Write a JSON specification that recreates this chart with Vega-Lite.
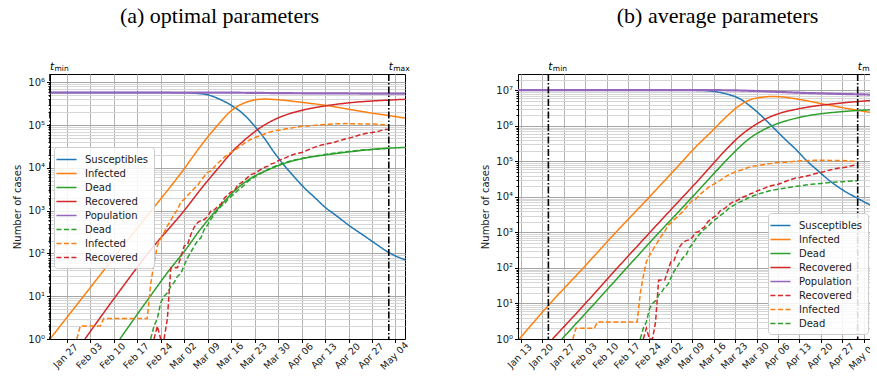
{
  "$schema": "https://vega.github.io/schema/vega-lite/v6.json",
  "padding": {"left": 12, "top": 4, "right": -10, "bottom": 0},
  "spacing": 69,
  "config": {
    "font": "DejaVu Sans",
    "view": {"stroke": "black", "strokeWidth": 1},
    "axis": {"labelFont": "DejaVu Sans", "labelColor": "#1a1a1a", "titleFont": "DejaVu Sans", "titleFontWeight": "normal", "titleColor": "#1a1a1a", "domainColor": "black", "tickColor": "black"},
    "legend": {"title": null, "symbolType": "M-1.5,0H1.5", "symbolSize": 180, "symbolStrokeWidth": 1.5, "labelFont": "DejaVu Sans", "labelFontSize": 10, "labelColor": "#1a1a1a", "labelOffset": 11, "rowPadding": 1, "padding": 5, "fillColor": "rgba(255,255,255,0.85)", "strokeColor": "#cccccc", "cornerRadius": 3}
  },
  "datasets": {
    "tlines": [{"d": "2020-01-22", "t": "min"}, {"d": "2020-05-02", "t": "max"}],
    "modelA": [
      {"s": "Susceptibles", "d": "2020-01-22", "v": 575000}, {"s": "Susceptibles", "d": "2020-02-20", "v": 575000}, {"s": "Susceptibles", "d": "2020-03-01", "v": 570000}, {"s": "Susceptibles", "d": "2020-03-05", "v": 555000}, {"s": "Susceptibles", "d": "2020-03-09", "v": 510000}, {"s": "Susceptibles", "d": "2020-03-12", "v": 420000}, {"s": "Susceptibles", "d": "2020-03-16", "v": 290000}, {"s": "Susceptibles", "d": "2020-03-19", "v": 200000}, {"s": "Susceptibles", "d": "2020-03-23", "v": 95000}, {"s": "Susceptibles", "d": "2020-03-26", "v": 48000}, {"s": "Susceptibles", "d": "2020-03-29", "v": 22000}, {"s": "Susceptibles", "d": "2020-04-01", "v": 11000}, {"s": "Susceptibles", "d": "2020-04-04", "v": 5900}, {"s": "Susceptibles", "d": "2020-04-07", "v": 3300}, {"s": "Susceptibles", "d": "2020-04-10", "v": 2000}, {"s": "Susceptibles", "d": "2020-04-13", "v": 1200}, {"s": "Susceptibles", "d": "2020-04-16", "v": 800}, {"s": "Susceptibles", "d": "2020-04-20", "v": 460}, {"s": "Susceptibles", "d": "2020-04-24", "v": 280}, {"s": "Susceptibles", "d": "2020-04-28", "v": 170}, {"s": "Susceptibles", "d": "2020-05-02", "v": 105}, {"s": "Susceptibles", "d": "2020-05-07", "v": 70},
      {"s": "Infected", "d": "2020-01-22", "v": 1}, {"s": "Infected", "d": "2020-02-01", "v": 10}, {"s": "Infected", "d": "2020-02-11", "v": 100}, {"s": "Infected", "d": "2020-02-21", "v": 950}, {"s": "Infected", "d": "2020-03-02", "v": 9500}, {"s": "Infected", "d": "2020-03-07", "v": 33000}, {"s": "Infected", "d": "2020-03-12", "v": 100000}, {"s": "Infected", "d": "2020-03-16", "v": 215000}, {"s": "Infected", "d": "2020-03-19", "v": 305000}, {"s": "Infected", "d": "2020-03-23", "v": 385000}, {"s": "Infected", "d": "2020-03-26", "v": 405000}, {"s": "Infected", "d": "2020-03-30", "v": 390000}, {"s": "Infected", "d": "2020-04-06", "v": 340000}, {"s": "Infected", "d": "2020-04-13", "v": 290000}, {"s": "Infected", "d": "2020-04-20", "v": 235000}, {"s": "Infected", "d": "2020-04-27", "v": 190000}, {"s": "Infected", "d": "2020-05-04", "v": 158000}, {"s": "Infected", "d": "2020-05-07", "v": 145000},
      {"s": "Dead", "d": "2020-02-11T20:00:00Z", "v": 1}, {"s": "Dead", "d": "2020-02-20", "v": 8}, {"s": "Dead", "d": "2020-02-27", "v": 45}, {"s": "Dead", "d": "2020-03-02", "v": 110}, {"s": "Dead", "d": "2020-03-07", "v": 380}, {"s": "Dead", "d": "2020-03-12", "v": 1100}, {"s": "Dead", "d": "2020-03-17", "v": 2900}, {"s": "Dead", "d": "2020-03-22", "v": 5800}, {"s": "Dead", "d": "2020-03-27", "v": 9000}, {"s": "Dead", "d": "2020-04-02", "v": 13500}, {"s": "Dead", "d": "2020-04-08", "v": 17500}, {"s": "Dead", "d": "2020-04-13", "v": 20000}, {"s": "Dead", "d": "2020-04-20", "v": 23500}, {"s": "Dead", "d": "2020-04-27", "v": 27000}, {"s": "Dead", "d": "2020-05-02", "v": 28800}, {"s": "Dead", "d": "2020-05-07", "v": 30000},
      {"s": "Recovered", "d": "2020-02-01T10:00:00Z", "v": 1}, {"s": "Recovered", "d": "2020-02-11", "v": 11}, {"s": "Recovered", "d": "2020-02-21", "v": 120}, {"s": "Recovered", "d": "2020-03-02", "v": 1000}, {"s": "Recovered", "d": "2020-03-07", "v": 3200}, {"s": "Recovered", "d": "2020-03-12", "v": 9500}, {"s": "Recovered", "d": "2020-03-17", "v": 27000}, {"s": "Recovered", "d": "2020-03-21", "v": 52000}, {"s": "Recovered", "d": "2020-03-25", "v": 90000}, {"s": "Recovered", "d": "2020-03-29", "v": 135000}, {"s": "Recovered", "d": "2020-04-02", "v": 180000}, {"s": "Recovered", "d": "2020-04-06", "v": 220000}, {"s": "Recovered", "d": "2020-04-13", "v": 280000}, {"s": "Recovered", "d": "2020-04-20", "v": 330000}, {"s": "Recovered", "d": "2020-04-27", "v": 365000}, {"s": "Recovered", "d": "2020-05-04", "v": 390000}, {"s": "Recovered", "d": "2020-05-07", "v": 400000},
      {"s": "Population", "d": "2020-01-22", "v": 575000}, {"s": "Population", "d": "2020-03-09", "v": 575000}, {"s": "Population", "d": "2020-03-16", "v": 572000}, {"s": "Population", "d": "2020-03-23", "v": 565000}, {"s": "Population", "d": "2020-03-30", "v": 558000}, {"s": "Population", "d": "2020-04-06", "v": 553000}, {"s": "Population", "d": "2020-04-13", "v": 550000}, {"s": "Population", "d": "2020-04-20", "v": 547000}, {"s": "Population", "d": "2020-04-27", "v": 544000}, {"s": "Population", "d": "2020-05-07", "v": 540000}
    ],
    "modelB": [
      {"s": "Susceptibles", "d": "2020-01-12", "v": 10200000}, {"s": "Susceptibles", "d": "2020-03-05", "v": 10150000}, {"s": "Susceptibles", "d": "2020-03-12", "v": 9950000}, {"s": "Susceptibles", "d": "2020-03-17", "v": 9100000}, {"s": "Susceptibles", "d": "2020-03-21", "v": 7600000}, {"s": "Susceptibles", "d": "2020-03-25", "v": 5500000}, {"s": "Susceptibles", "d": "2020-03-28", "v": 3550000}, {"s": "Susceptibles", "d": "2020-03-31", "v": 2140000}, {"s": "Susceptibles", "d": "2020-04-03", "v": 1200000}, {"s": "Susceptibles", "d": "2020-04-06", "v": 660000}, {"s": "Susceptibles", "d": "2020-04-09", "v": 370000}, {"s": "Susceptibles", "d": "2020-04-12", "v": 210000}, {"s": "Susceptibles", "d": "2020-04-15", "v": 112000}, {"s": "Susceptibles", "d": "2020-04-19", "v": 55000}, {"s": "Susceptibles", "d": "2020-04-23", "v": 28000}, {"s": "Susceptibles", "d": "2020-04-27", "v": 16000}, {"s": "Susceptibles", "d": "2020-05-02", "v": 9100}, {"s": "Susceptibles", "d": "2020-05-07", "v": 5400},
      {"s": "Infected", "d": "2020-01-12T12:00:00Z", "v": 1}, {"s": "Infected", "d": "2020-01-23", "v": 11}, {"s": "Infected", "d": "2020-02-02", "v": 92}, {"s": "Infected", "d": "2020-02-13", "v": 1000}, {"s": "Infected", "d": "2020-02-24", "v": 10000}, {"s": "Infected", "d": "2020-03-05", "v": 85000}, {"s": "Infected", "d": "2020-03-10", "v": 250000}, {"s": "Infected", "d": "2020-03-15", "v": 660000}, {"s": "Infected", "d": "2020-03-20", "v": 1780000}, {"s": "Infected", "d": "2020-03-24", "v": 3550000}, {"s": "Infected", "d": "2020-03-28", "v": 5500000}, {"s": "Infected", "d": "2020-04-01", "v": 6450000}, {"s": "Infected", "d": "2020-04-04", "v": 6760000}, {"s": "Infected", "d": "2020-04-08", "v": 6450000}, {"s": "Infected", "d": "2020-04-14", "v": 5370000}, {"s": "Infected", "d": "2020-04-20", "v": 4270000}, {"s": "Infected", "d": "2020-04-26", "v": 3390000}, {"s": "Infected", "d": "2020-05-02", "v": 2750000}, {"s": "Infected", "d": "2020-05-07", "v": 2340000},
      {"s": "Dead", "d": "2020-01-26T10:00:00Z", "v": 1}, {"s": "Dead", "d": "2020-02-05", "v": 7.9}, {"s": "Dead", "d": "2020-02-15", "v": 71}, {"s": "Dead", "d": "2020-02-25", "v": 630}, {"s": "Dead", "d": "2020-03-06", "v": 5250}, {"s": "Dead", "d": "2020-03-12", "v": 19000}, {"s": "Dead", "d": "2020-03-17", "v": 56000}, {"s": "Dead", "d": "2020-03-22", "v": 158000}, {"s": "Dead", "d": "2020-03-27", "v": 400000}, {"s": "Dead", "d": "2020-04-01", "v": 760000}, {"s": "Dead", "d": "2020-04-06", "v": 1175000}, {"s": "Dead", "d": "2020-04-12", "v": 1660000}, {"s": "Dead", "d": "2020-04-18", "v": 2090000}, {"s": "Dead", "d": "2020-04-24", "v": 2400000}, {"s": "Dead", "d": "2020-05-01", "v": 2690000}, {"s": "Dead", "d": "2020-05-07", "v": 2880000},
      {"s": "Recovered", "d": "2020-01-23T08:00:00Z", "v": 1}, {"s": "Recovered", "d": "2020-02-02", "v": 7.9}, {"s": "Recovered", "d": "2020-02-12", "v": 72}, {"s": "Recovered", "d": "2020-02-22", "v": 630}, {"s": "Recovered", "d": "2020-03-03", "v": 5400}, {"s": "Recovered", "d": "2020-03-10", "v": 24000}, {"s": "Recovered", "d": "2020-03-15", "v": 72000}, {"s": "Recovered", "d": "2020-03-20", "v": 215000}, {"s": "Recovered", "d": "2020-03-25", "v": 560000}, {"s": "Recovered", "d": "2020-03-29", "v": 1000000}, {"s": "Recovered", "d": "2020-04-02", "v": 1580000}, {"s": "Recovered", "d": "2020-04-06", "v": 2190000}, {"s": "Recovered", "d": "2020-04-12", "v": 2950000}, {"s": "Recovered", "d": "2020-04-18", "v": 3630000}, {"s": "Recovered", "d": "2020-04-24", "v": 4170000}, {"s": "Recovered", "d": "2020-05-01", "v": 4790000}, {"s": "Recovered", "d": "2020-05-07", "v": 5250000},
      {"s": "Population", "d": "2020-01-12", "v": 10200000}, {"s": "Population", "d": "2020-03-12", "v": 10200000}, {"s": "Population", "d": "2020-03-23", "v": 10000000}, {"s": "Population", "d": "2020-03-30", "v": 9600000}, {"s": "Population", "d": "2020-04-06", "v": 9100000}, {"s": "Population", "d": "2020-04-13", "v": 8600000}, {"s": "Population", "d": "2020-04-20", "v": 8250000}, {"s": "Population", "d": "2020-04-27", "v": 7950000}, {"s": "Population", "d": "2020-05-07", "v": 7600000}
    ],
    "obs": [
      {"d": "2020-01-30", "Infected_data": 0},
      {"d": "2020-01-31", "Infected_data": 2},
      {"d": "2020-02-06", "Infected_data": 2},
      {"d": "2020-02-07", "Infected_data": 3},
      {"d": "2020-02-20", "Infected_data": 3},
      {"d": "2020-02-21", "Infected_data": 19, "Dead_data": 1},
      {"d": "2020-02-22", "Infected_data": 59, "Recovered_data": 1, "Dead_data": 2},
      {"d": "2020-02-23", "Infected_data": 150, "Recovered_data": 2, "Dead_data": 3},
      {"d": "2020-02-24", "Infected_data": 221, "Recovered_data": 1, "Dead_data": 7},
      {"d": "2020-02-25", "Infected_data": 311, "Recovered_data": 1, "Dead_data": 10},
      {"d": "2020-02-26", "Infected_data": 438, "Recovered_data": 3, "Dead_data": 12},
      {"d": "2020-02-27", "Infected_data": 593, "Recovered_data": 45, "Dead_data": 17},
      {"d": "2020-02-28", "Infected_data": 821, "Recovered_data": 46, "Dead_data": 21},
      {"d": "2020-02-29", "Infected_data": 1053, "Recovered_data": 46, "Dead_data": 29},
      {"d": "2020-03-01", "Infected_data": 1577, "Recovered_data": 83, "Dead_data": 34},
      {"d": "2020-03-02", "Infected_data": 1835, "Recovered_data": 149, "Dead_data": 52},
      {"d": "2020-03-03", "Infected_data": 2263, "Recovered_data": 160, "Dead_data": 79},
      {"d": "2020-03-04", "Infected_data": 2706, "Recovered_data": 276, "Dead_data": 107},
      {"d": "2020-03-05", "Infected_data": 3296, "Recovered_data": 414, "Dead_data": 148},
      {"d": "2020-03-06", "Infected_data": 3916, "Recovered_data": 523, "Dead_data": 197},
      {"d": "2020-03-07", "Infected_data": 5061, "Recovered_data": 589, "Dead_data": 233},
      {"d": "2020-03-08", "Infected_data": 6387, "Recovered_data": 622, "Dead_data": 366},
      {"d": "2020-03-09", "Infected_data": 7985, "Recovered_data": 724, "Dead_data": 463},
      {"d": "2020-03-10", "Infected_data": 8514, "Recovered_data": 1004, "Dead_data": 631},
      {"d": "2020-03-11", "Infected_data": 10590, "Recovered_data": 1045, "Dead_data": 827},
      {"d": "2020-03-12", "Infected_data": 12839, "Recovered_data": 1258, "Dead_data": 1016},
      {"d": "2020-03-13", "Infected_data": 14955, "Recovered_data": 1439, "Dead_data": 1266},
      {"d": "2020-03-14", "Infected_data": 17750, "Recovered_data": 1966, "Dead_data": 1441},
      {"d": "2020-03-15", "Infected_data": 20603, "Recovered_data": 2335, "Dead_data": 1809},
      {"d": "2020-03-16", "Infected_data": 23073, "Recovered_data": 2749, "Dead_data": 2158},
      {"d": "2020-03-17", "Infected_data": 26062, "Recovered_data": 2941, "Dead_data": 2503},
      {"d": "2020-03-18", "Infected_data": 28710, "Recovered_data": 4025, "Dead_data": 2978},
      {"d": "2020-03-19", "Infected_data": 33190, "Recovered_data": 4440, "Dead_data": 3405},
      {"d": "2020-03-20", "Infected_data": 37860, "Recovered_data": 5129, "Dead_data": 4032},
      {"d": "2020-03-21", "Infected_data": 42681, "Recovered_data": 6072, "Dead_data": 4825},
      {"d": "2020-03-22", "Infected_data": 46638, "Recovered_data": 7024, "Dead_data": 5476},
      {"d": "2020-03-23", "Infected_data": 50418, "Recovered_data": 7432, "Dead_data": 6077},
      {"d": "2020-03-24", "Infected_data": 54030, "Recovered_data": 8326, "Dead_data": 6820},
      {"d": "2020-03-25", "Infected_data": 57521, "Recovered_data": 9362, "Dead_data": 7503},
      {"d": "2020-03-26", "Infected_data": 62013, "Recovered_data": 10361, "Dead_data": 8165},
      {"d": "2020-03-27", "Infected_data": 66414, "Recovered_data": 10950, "Dead_data": 9134},
      {"d": "2020-03-28", "Infected_data": 70065, "Recovered_data": 12384, "Dead_data": 10023},
      {"d": "2020-03-29", "Infected_data": 73880, "Recovered_data": 13030, "Dead_data": 10779},
      {"d": "2020-03-30", "Infected_data": 75528, "Recovered_data": 14620, "Dead_data": 11591},
      {"d": "2020-03-31", "Infected_data": 77635, "Recovered_data": 15729, "Dead_data": 12428},
      {"d": "2020-04-01", "Infected_data": 80572, "Recovered_data": 16847, "Dead_data": 13155},
      {"d": "2020-04-02", "Infected_data": 83049, "Recovered_data": 18278, "Dead_data": 13915},
      {"d": "2020-04-03", "Infected_data": 85388, "Recovered_data": 19758, "Dead_data": 14681},
      {"d": "2020-04-04", "Infected_data": 88274, "Recovered_data": 20996, "Dead_data": 15362},
      {"d": "2020-04-05", "Infected_data": 91246, "Recovered_data": 21815, "Dead_data": 15887},
      {"d": "2020-04-06", "Infected_data": 93187, "Recovered_data": 22837, "Dead_data": 16523},
      {"d": "2020-04-07", "Infected_data": 94067, "Recovered_data": 24392, "Dead_data": 17127},
      {"d": "2020-04-08", "Infected_data": 95262, "Recovered_data": 26491, "Dead_data": 17669},
      {"d": "2020-04-09", "Infected_data": 96877, "Recovered_data": 28470, "Dead_data": 18279},
      {"d": "2020-04-10", "Infected_data": 98273, "Recovered_data": 30455, "Dead_data": 18849},
      {"d": "2020-04-11", "Infected_data": 100269, "Recovered_data": 32534, "Dead_data": 19468},
      {"d": "2020-04-12", "Infected_data": 102253, "Recovered_data": 34211, "Dead_data": 19899},
      {"d": "2020-04-13", "Infected_data": 103616, "Recovered_data": 35435, "Dead_data": 20465},
      {"d": "2020-04-14", "Infected_data": 104291, "Recovered_data": 37130, "Dead_data": 21067},
      {"d": "2020-04-15", "Infected_data": 105418, "Recovered_data": 38092, "Dead_data": 21645},
      {"d": "2020-04-16", "Infected_data": 106607, "Recovered_data": 40164, "Dead_data": 22170},
      {"d": "2020-04-17", "Infected_data": 106962, "Recovered_data": 42727, "Dead_data": 22745},
      {"d": "2020-04-18", "Infected_data": 107771, "Recovered_data": 44927, "Dead_data": 23227},
      {"d": "2020-04-19", "Infected_data": 108257, "Recovered_data": 47055, "Dead_data": 23660},
      {"d": "2020-04-20", "Infected_data": 108237, "Recovered_data": 48877, "Dead_data": 24114},
      {"d": "2020-04-21", "Infected_data": 107709, "Recovered_data": 51600, "Dead_data": 24648},
      {"d": "2020-04-22", "Infected_data": 107699, "Recovered_data": 54543, "Dead_data": 25085},
      {"d": "2020-04-23", "Infected_data": 106848, "Recovered_data": 57576, "Dead_data": 25549},
      {"d": "2020-04-24", "Infected_data": 106527, "Recovered_data": 60498, "Dead_data": 25969},
      {"d": "2020-04-25", "Infected_data": 105847, "Recovered_data": 63120, "Dead_data": 26384},
      {"d": "2020-04-26", "Infected_data": 106103, "Recovered_data": 64928, "Dead_data": 26644},
      {"d": "2020-04-27", "Infected_data": 105813, "Recovered_data": 66624, "Dead_data": 26977},
      {"d": "2020-04-28", "Infected_data": 105205, "Recovered_data": 68941, "Dead_data": 27359},
      {"d": "2020-04-29", "Infected_data": 104657, "Recovered_data": 71252, "Dead_data": 27682},
      {"d": "2020-04-30", "Infected_data": 101551, "Recovered_data": 75945, "Dead_data": 27967},
      {"d": "2020-05-01", "Infected_data": 100943, "Recovered_data": 78249, "Dead_data": 28236},
      {"d": "2020-05-02", "Infected_data": 100704, "Recovered_data": 79914, "Dead_data": 28710}
    ]
  },
  "resolve": {"scale": {"x": "independent", "y": "independent", "color": "independent", "strokeDash": "independent"}},
  "hconcat": [
    {
      "width": 355,
      "height": 265,
      "title": {"text": "(a) optimal parameters", "frame": "group", "anchor": "middle", "dx": -8, "offset": 34, "font": "Liberation Serif", "fontSize": 22, "fontWeight": "normal", "color": "black"},
      "encoding": {
        "x": {"field": "d", "type": "temporal",
          "scale": {"type": "utc", "domain": [{"year": 2020, "month": 1, "date": 22, "utc": true}, {"year": 2020, "month": 5, "date": 6, "hours": 20, "utc": true}]},
          "axis": {"title": null, "format": "%b %d", "labelAngle": -45, "labelAlign": "center", "labelBaseline": "middle", "labelPadding": 13, "labelOffset": -1.5, "labelFontSize": 9.5, "labelOverlap": false, "labelFlush": false, "tickSize": 3.5, "grid": true, "gridColor": "#b3b3b3",
            "values": [{"year": 2020, "month": 1, "date": 27, "utc": true}, {"year": 2020, "month": 2, "date": 3, "utc": true}, {"year": 2020, "month": 2, "date": 10, "utc": true}, {"year": 2020, "month": 2, "date": 17, "utc": true}, {"year": 2020, "month": 2, "date": 24, "utc": true}, {"year": 2020, "month": 3, "date": 2, "utc": true}, {"year": 2020, "month": 3, "date": 9, "utc": true}, {"year": 2020, "month": 3, "date": 16, "utc": true}, {"year": 2020, "month": 3, "date": 23, "utc": true}, {"year": 2020, "month": 3, "date": 30, "utc": true}, {"year": 2020, "month": 4, "date": 6, "utc": true}, {"year": 2020, "month": 4, "date": 13, "utc": true}, {"year": 2020, "month": 4, "date": 20, "utc": true}, {"year": 2020, "month": 4, "date": 27, "utc": true}, {"year": 2020, "month": 5, "date": 4, "utc": true}]}
        }
      },
      "layer": [
        {
          "data": {"name": "modelA"},
          "mark": {"type": "line", "clip": true, "interpolate": "monotone"},
          "encoding": {
            "y": {"field": "v", "type": "quantitative", "scale": {"type": "log", "domain": [1, 1560000], "nice": false, "clamp": true},
              "axis": {"title": "Number of cases", "titleFontSize": 10, "titlePadding": 5, "labelFontSize": 10, "labelOverlap": false, "labelPadding": 2, "grid": true,
                "values": [1,2,3,4,5,6,7,8,9,10,20,30,40,50,60,70,80,90,100,200,300,400,500,600,700,800,900,1000,2000,3000,4000,5000,6000,7000,8000,9000,10000,20000,30000,40000,50000,60000,70000,80000,90000,100000,200000,300000,400000,500000,600000,700000,800000,900000,1000000],
                "labelExpr": "abs(log(datum.value)/LN10 - round(log(datum.value)/LN10)) < 0.001 ? '10' + ['⁰','¹','²','³','⁴','⁵','⁶','⁷'][round(log(datum.value)/LN10)] : ''",
                "tickSize": {"condition": {"test": "abs(log(datum.value)/LN10 - round(log(datum.value)/LN10)) < 0.001", "value": 3.5}, "value": 2},
                "gridColor": {"condition": {"test": "abs(log(datum.value)/LN10 - round(log(datum.value)/LN10)) < 0.001", "value": "#a6a6a6"}, "value": "#d6d6d6"}}},
            "color": {"field": "s", "type": "nominal",
              "scale": {"domain": ["Susceptibles", "Infected", "Dead", "Recovered", "Population", "Dead_data", "Infected_data", "Recovered_data"], "range": ["#1f77b4", "#ff7f0e", "#2ca02c", "#d62728", "#9467bd", "#2ca02c", "#ff7f0e", "#d62728"]},
              "legend": {"orient": "none", "legendX": 4, "legendY": 73, "labelExpr": "replace(datum.label, '_data', '')"}},
            "strokeDash": {"field": "s", "type": "nominal",
              "scale": {"domain": ["Susceptibles", "Infected", "Dead", "Recovered", "Population", "Dead_data", "Infected_data", "Recovered_data"], "range": [[1, 0], [1, 0], [1, 0], [1, 0], [1, 0], [5, 2.5], [5, 2.5], [5, 2.5]]},
              "legend": {"orient": "none", "legendX": 4, "legendY": 73, "labelExpr": "replace(datum.label, '_data', '')"}},
            "strokeWidth": {"condition": {"test": "datum.s === 'Population'", "value": 2.2}, "value": 1.5}
          }
        },
        {
          "data": {"name": "obs"},
          "transform": [{"fold": ["Dead_data", "Infected_data", "Recovered_data"], "as": ["s", "v"]}],
          "mark": {"type": "line", "clip": true, "strokeWidth": 1.5},
          "encoding": {
            "y": {"field": "v", "type": "quantitative"},
            "color": {"field": "s", "type": "nominal"},
            "strokeDash": {"field": "s", "type": "nominal"}
          }
        },
        {
          "data": {"name": "tlines"},
          "mark": {"type": "rule", "color": "black", "strokeWidth": 1.6, "strokeDash": [7, 2, 1.5, 2]},
          "encoding": {}
        },
        {
          "data": {"name": "tlines"},
          "mark": {"type": "text", "text": "t", "font": "DejaVu Sans", "fontStyle": "italic", "fontSize": 10.5, "align": "left", "baseline": "alphabetic", "dy": -4, "color": "black"},
          "encoding": {"y": {"datum": 1560000, "type": "quantitative"}}
        },
        {
          "data": {"name": "tlines"},
          "mark": {"type": "text", "font": "DejaVu Sans", "fontSize": 7.5, "align": "left", "baseline": "alphabetic", "dx": 4.5, "dy": -3, "color": "black"},
          "encoding": {"y": {"datum": 1560000, "type": "quantitative"}, "text": {"field": "t"}}
        }
      ]
    },
    {
      "width": 355,
      "height": 265,
      "title": {"text": "(b) average parameters", "frame": "group", "anchor": "middle", "dx": 22, "offset": 34, "font": "Liberation Serif", "fontSize": 22, "fontWeight": "normal", "color": "black"},
      "encoding": {
        "x": {"field": "d", "type": "temporal",
          "scale": {"type": "utc", "domain": [{"year": 2020, "month": 1, "date": 12, "hours": 2, "utc": true}, {"year": 2020, "month": 5, "date": 7, "utc": true}]},
          "axis": {"title": null, "format": "%b %d", "labelAngle": -45, "labelAlign": "center", "labelBaseline": "middle", "labelPadding": 13, "labelOffset": -1.5, "labelFontSize": 9.5, "labelOverlap": false, "labelFlush": false, "tickSize": 3.5, "grid": true, "gridColor": "#b3b3b3",
            "values": [{"year": 2020, "month": 1, "date": 13, "utc": true}, {"year": 2020, "month": 1, "date": 20, "utc": true}, {"year": 2020, "month": 1, "date": 27, "utc": true}, {"year": 2020, "month": 2, "date": 3, "utc": true}, {"year": 2020, "month": 2, "date": 10, "utc": true}, {"year": 2020, "month": 2, "date": 17, "utc": true}, {"year": 2020, "month": 2, "date": 24, "utc": true}, {"year": 2020, "month": 3, "date": 2, "utc": true}, {"year": 2020, "month": 3, "date": 9, "utc": true}, {"year": 2020, "month": 3, "date": 16, "utc": true}, {"year": 2020, "month": 3, "date": 23, "utc": true}, {"year": 2020, "month": 3, "date": 30, "utc": true}, {"year": 2020, "month": 4, "date": 6, "utc": true}, {"year": 2020, "month": 4, "date": 13, "utc": true}, {"year": 2020, "month": 4, "date": 20, "utc": true}, {"year": 2020, "month": 4, "date": 27, "utc": true}, {"year": 2020, "month": 5, "date": 4, "utc": true}]}
        }
      },
      "layer": [
        {
          "data": {"name": "modelB"},
          "mark": {"type": "line", "clip": true, "interpolate": "monotone"},
          "encoding": {
            "y": {"field": "v", "type": "quantitative", "scale": {"type": "log", "domain": [1, 29000000], "nice": false, "clamp": true},
              "axis": {"title": "Number of cases", "titleFontSize": 10, "titlePadding": 5, "labelFontSize": 10, "labelOverlap": false, "labelPadding": 2, "grid": true,
                "values": [1,2,3,4,5,6,7,8,9,10,20,30,40,50,60,70,80,90,100,200,300,400,500,600,700,800,900,1000,2000,3000,4000,5000,6000,7000,8000,9000,10000,20000,30000,40000,50000,60000,70000,80000,90000,100000,200000,300000,400000,500000,600000,700000,800000,900000,1000000,2000000,3000000,4000000,5000000,6000000,7000000,8000000,9000000,10000000,20000000],
                "labelExpr": "abs(log(datum.value)/LN10 - round(log(datum.value)/LN10)) < 0.001 ? '10' + ['⁰','¹','²','³','⁴','⁵','⁶','⁷'][round(log(datum.value)/LN10)] : ''",
                "tickSize": {"condition": {"test": "abs(log(datum.value)/LN10 - round(log(datum.value)/LN10)) < 0.001", "value": 3.5}, "value": 2},
                "gridColor": {"condition": {"test": "abs(log(datum.value)/LN10 - round(log(datum.value)/LN10)) < 0.001", "value": "#a6a6a6"}, "value": "#d6d6d6"}}},
            "color": {"field": "s", "type": "nominal",
              "scale": {"domain": ["Susceptibles", "Infected", "Dead", "Recovered", "Population", "Recovered_data", "Infected_data", "Dead_data"], "range": ["#1f77b4", "#ff7f0e", "#2ca02c", "#d62728", "#9467bd", "#d62728", "#ff7f0e", "#2ca02c"]},
              "legend": {"orient": "bottom-right", "offset": 5, "labelExpr": "replace(datum.label, '_data', '')"}},
            "strokeDash": {"field": "s", "type": "nominal",
              "scale": {"domain": ["Susceptibles", "Infected", "Dead", "Recovered", "Population", "Recovered_data", "Infected_data", "Dead_data"], "range": [[1, 0], [1, 0], [1, 0], [1, 0], [1, 0], [5, 2.5], [5, 2.5], [5, 2.5]]},
              "legend": {"orient": "bottom-right", "offset": 5, "labelExpr": "replace(datum.label, '_data', '')"}},
            "strokeWidth": {"condition": {"test": "datum.s === 'Population'", "value": 2.2}, "value": 1.5}
          }
        },
        {
          "data": {"name": "obs"},
          "transform": [{"fold": ["Recovered_data", "Infected_data", "Dead_data"], "as": ["s", "v"]}],
          "mark": {"type": "line", "clip": true, "strokeWidth": 1.5},
          "encoding": {
            "y": {"field": "v", "type": "quantitative"},
            "color": {"field": "s", "type": "nominal"},
            "strokeDash": {"field": "s", "type": "nominal"}
          }
        },
        {
          "data": {"name": "tlines"},
          "mark": {"type": "rule", "color": "black", "strokeWidth": 1.6, "strokeDash": [7, 2, 1.5, 2]},
          "encoding": {}
        },
        {
          "data": {"name": "tlines"},
          "mark": {"type": "text", "text": "t", "font": "DejaVu Sans", "fontStyle": "italic", "fontSize": 10.5, "align": "left", "baseline": "alphabetic", "dy": -4, "color": "black"},
          "encoding": {"y": {"datum": 29000000, "type": "quantitative"}}
        },
        {
          "data": {"name": "tlines"},
          "mark": {"type": "text", "font": "DejaVu Sans", "fontSize": 7.5, "align": "left", "baseline": "alphabetic", "dx": 4.5, "dy": -3, "color": "black"},
          "encoding": {"y": {"datum": 29000000, "type": "quantitative"}, "text": {"field": "t"}}
        }
      ]
    }
  ]
}
